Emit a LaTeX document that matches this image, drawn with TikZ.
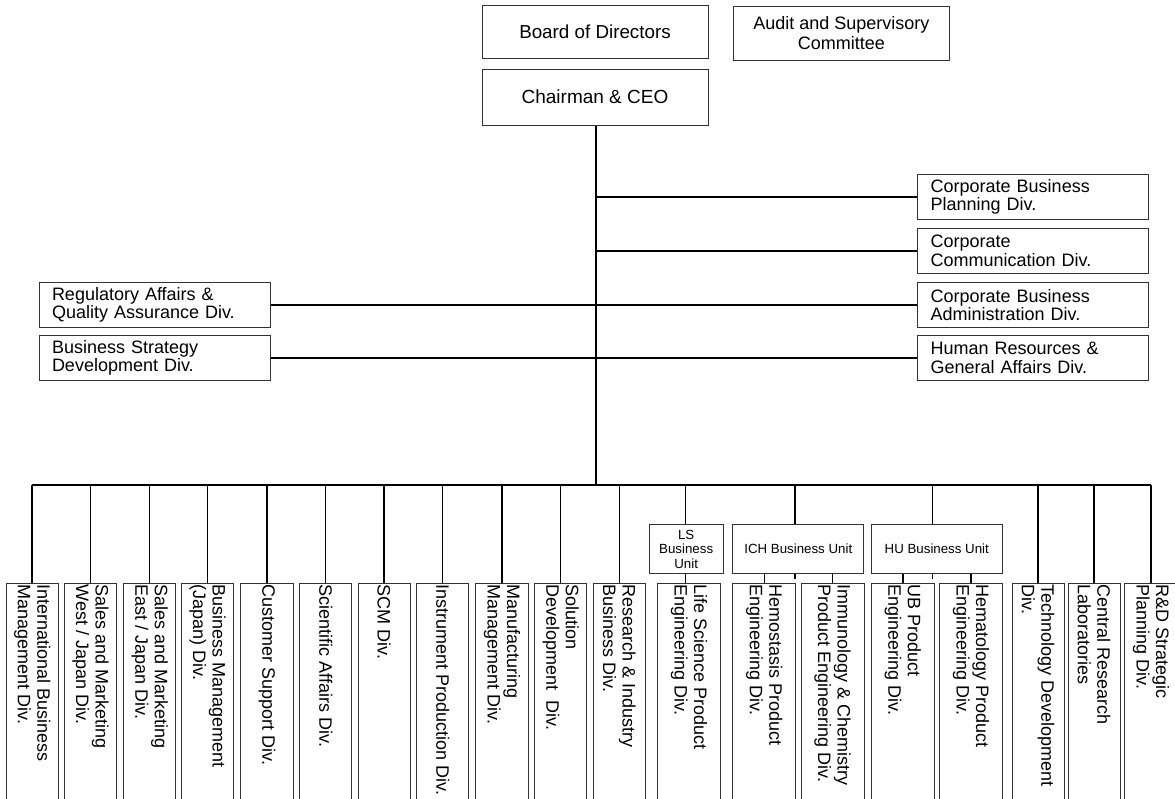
\documentclass[tikz,border=0pt]{standalone}
\usepackage{fontspec}
\setmainfont{Liberation Sans}
\newcommand\fsz[2]{\fontsize{#1}{#2}\selectfont}
\begin{document}
\begin{tikzpicture}[x=1pt,y=-1pt,
  box/.style={draw=black!80, line width=1pt, inner sep=0pt, align=center, font=\fsz{18}{18.5}},
  sidebox/.style={box, minimum width=230.6pt, minimum height=45pt, text width=204.6pt, inner xsep=13pt, align=left},
  vbox/.style={draw=black!80, line width=1pt, anchor=north, minimum height=240pt, inner sep=0pt},
  vtext/.style={rotate=-90, anchor=west, inner sep=1.5pt, align=left, font=\fsz{18}{19.5}},
  bubox/.style={box, minimum height=49.4pt, font=\fsz{13.3}{14.5}},
  conn/.style={line width=1.5pt, black}]
\useasboundingbox (0,0) rectangle (1175,798);
\clip (0,0) rectangle (1175,798);

% top
\node[box, minimum width=226pt, minimum height=53pt, font=\fsz{18.8}{19}] (board) at (595,31.5) {Board of Directors};
\node[box, minimum width=216.8pt, minimum height=54pt, font=\fsz{18}{20}] (audit) at (841.4,33) {Audit and Supervisory\\Committee};
\node[box, minimum width=226pt, minimum height=56pt, font=\fsz{19}{19}] (ceo) at (595,97) {Chairman \& CEO};
\coordinate (bus) at (596,485);

% right side boxes
\node[sidebox] (rb1) at (1033,197) {Corporate Business\\Planning Div.};
\node[sidebox] (rb2) at (1033,251) {Corporate\\Communication Div.};
\node[sidebox] (rb3) at (1033,305) {Corporate Business\\Administration Div.};
\node[sidebox] (rb4) at (1033,358) {Human Resources \&\\General Affairs Div.};

% left side boxes
\node[sidebox, minimum width=231pt, text width=205pt] (lb1) at (154.5,305) {Regulatory Affairs \&\\Quality Assurance Div.};
\node[sidebox, minimum width=231pt, text width=205pt] (lb2) at (154.5,358) {Business Strategy\\Development Div.};

% business units
\node[bubox, minimum width=74.3pt] (lsbu) at (686.2,549) {LS\\Business\\Unit};
\node[bubox, minimum width=131.3pt] (ichbu) at (798.3,549) {ICH Business Unit};
\node[bubox, minimum width=131pt] (hubu) at (936.8,549) {HU Business Unit};
\coordinate (lstap) at (685.3,485);
\coordinate (ichtap) at (795,485);
\coordinate (hutap) at (932.6,485);

% bottom boxes
\node[vbox, minimum width=52.3pt] (b1) at (32.2,583) {};
\node[vbox, minimum width=52.4pt] (b2) at (90.5,583) {};
\node[vbox, minimum width=52pt] (b3) at (149.7,583) {};
\node[vbox, minimum width=51.6pt] (b4) at (207.5,583) {};
\node[vbox, minimum width=52.6pt] (b5) at (267,583) {};
\node[vbox, minimum width=52pt] (b6) at (325.7,583) {};
\node[vbox, minimum width=52pt] (b7) at (384,583) {};
\node[vbox, minimum width=52pt] (b8) at (442.7,583) {};
\node[vbox, minimum width=52.6pt] (b9) at (502,583) {};
\node[vbox, minimum width=52pt] (b10) at (560.7,583) {};
\node[vbox, minimum width=52pt] (b11) at (619.3,583) {};
\node[vbox, minimum width=62.6pt] (b12) at (689,583) {};
\node[vbox, minimum width=62.7pt] (b13) at (764.3,583) {};
\node[vbox, minimum width=63pt] (b14) at (832.5,583) {};
\node[vbox, minimum width=63pt] (b15) at (902.8,583) {};
\node[vbox, minimum width=63.4pt] (b16) at (971,583) {};
\node[vbox, minimum width=51.7pt] (b17) at (1038.2,583) {};
\node[vbox, minimum width=52pt] (b18) at (1094,583) {};
\node[vbox, minimum width=52.3pt] (b19) at (1150.9,583) {};

\node[vtext] (t1) at (b1.north) {International Business\\Management Div.};
\node[vtext] (t2) at (b2.north) {Sales and Marketing\\West / Japan Div.};
\node[vtext] (t3) at (b3.north) {Sales and Marketing\\East / Japan Div.};
\node[vtext] (t4) at (b4.north) {Business Management\\(Japan) Div.};
\node[vtext] (t5) at (b5.north) {Customer Support Div.};
\node[vtext] (t6) at (b6.north) {Scientific Affairs Div.};
\node[vtext] (t7) at (b7.north) {SCM Div.};
\node[vtext] (t8) at (b8.north) {Instrument Production Div.};
\node[vtext] (t9) at (b9.north) {Manufacturing\\Management Div.};
\node[vtext] (t10) at (b10.north) {Solution\\Development\ \ Div.};
\node[vtext] (t11) at (b11.north) {Research \& Industry\\Business Div.};
\node[vtext] (t12) at (b12.north) {Life Science Product\\Engineering Div.};
\node[vtext] (t13) at (b13.north) {Hemostasis Product\\Engineering Div.};
\node[vtext] (t14) at (b14.north) {Immunology \& Chemistry\\Product Engineering Div.};
\node[vtext] (t15) at (b15.north) {UB Product\\Engineering Div.};
\node[vtext] (t16) at (b16.north) {Hematology Product\\Engineering Div.};
\node[vtext] (t17) at (b17.north) {Technology Development\\Div.};
\node[vtext] (t18) at (b18.north) {Central Research\\Laboratories};
\node[vtext] (t19) at (b19.north) {R\&D Strategic\\Planning Div.};

% connectors
\draw[conn] (ceo.south -| bus) -- (bus);
\foreach \r in {rb1,rb2} \draw[conn] (\r.west) -- (\r.west -| bus);
\draw[conn] (lb1.east) -- (rb3.west);
\draw[conn] (lb2.east) -- (rb4.west);
\draw[conn] (b1.north |- bus) -- (b19.north |- bus);
\foreach \b in {b1,b2,b3,b4,b5,b6,b7,b8,b9,b10,b11,b17,b18,b19}
  \draw[conn] (\b.north |- bus) -- (\b.north);
\draw[conn] (lstap) -- (lstap |- lsbu.north);
\draw[conn] (ichtap) -- (ichtap |- ichbu.north);
\draw[conn] (hutap) -- (hutap |- hubu.north);
\draw[conn] (lstap |- lsbu.south) -- (lstap |- b12.north);
\draw[conn] (b13.north |- ichbu.south) -- (b13.north);
\draw[conn] (b14.north |- ichbu.south) -- (b14.north);
\draw[conn] (ichtap |- ichbu.south) -- ++(0,4.6);
\draw[conn] (b15.north |- hubu.south) -- (b15.north);
\draw[conn] (b16.north |- hubu.south) -- (b16.north);
\draw[conn] (hutap |- hubu.south) -- ++(0,4.6);
\end{tikzpicture}
\end{document}
